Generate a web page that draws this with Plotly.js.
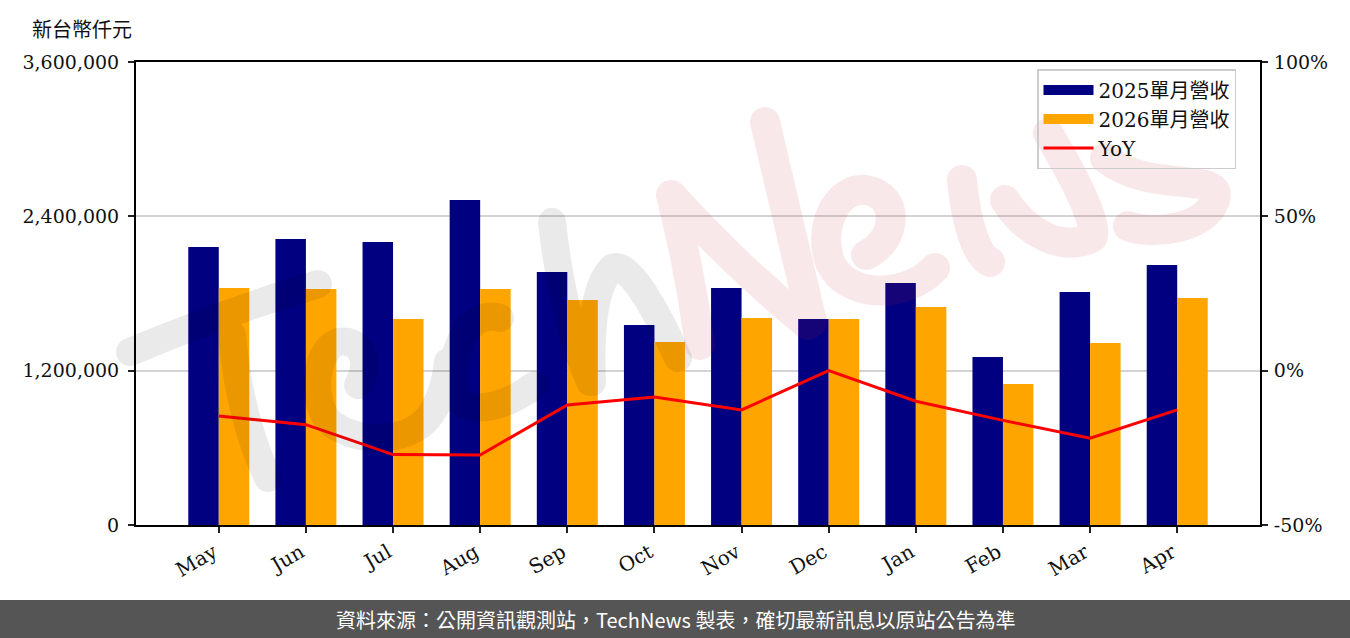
<!DOCTYPE html>
<html>
<head>
<meta charset="utf-8">
<script src="https://cdn.plot.ly/plotly-3.0.1.min.js"></script>
<style>
  html, body { margin: 0; padding: 0; background: #fff; }
  #chart { width: 1350px; height: 638px; }
</style>
</head>
<body>
<div id="chart"></div>
<script>
// ---- data ----
const months = ['May', 'Jun', 'Jul', 'Aug', 'Sep', 'Oct', 'Nov', 'Dec', 'Jan', 'Feb', 'Mar', 'Apr'];
const rev2025 = [2161600, 2223800, 2200400, 2527000, 1967200, 1555100, 1842800, 1601700, 1881600, 1306300, 1811700, 2021600];
const rev2026 = [1842800, 1835000, 1601700, 1835000, 1749500, 1422900, 1609500, 1601700, 1695000, 1096300, 1415100, 1765000];
const yoy = [-14.7, -17.5, -27.2, -27.3, -11.1, -8.5, -12.7, 0.0, -9.9, -16.1, -21.9, -12.7];

const seriesNames = ['2025單月營收', '2026單月營收', 'YoY'];
const leftTickVals = [0, 1200000, 2400000, 3600000];
const leftTickText = ['0', '1,200,000', '2,400,000', '3,600,000'];
const rightTickVals = [-50, 0, 50, 100];
const rightTickText = ['-50%', '0%', '50%', '100%'];
const unitLabel = '新台幣仟元';
const footerText = '資料來源：公開資訊觀測站，TechNews 製表，確切最新訊息以原站公告為準';

// ---- styling ----
const SERIF = '"DejaVu Serif", "Noto Sans CJK TC", serif';
const SANS_CJK = '"Noto Sans CJK TC", "Noto Sans", sans-serif';
const COLORS = ['#000080', '#FFA500', '#FF0000'];
const W = 1350, H = 638;
const M = { l: 136, r: 90, t: 62, b: 113 };
const PW = W - M.l - M.r, PH = H - M.t - M.b;
const px2x = (px) => (px - M.l) / PW;
const px2y = (py) => (H - M.b - py) / PH;

// decorative watermark (brush-like "TechNews"), drawn in page pixels
const wmSvg =
  '<svg xmlns="http://www.w3.org/2000/svg" width="1350" height="638" viewBox="0 0 1350 638">' +
  '<g opacity="0.08" fill="none" stroke="#000" stroke-width="28" stroke-linecap="round" stroke-linejoin="round">' +
  '<path d="M130,352 Q225,312 318,284"/>' +
  '<path d="M232,335 Q240,420 268,478"/>' +
  '<path d="M358,385 C372,360 360,338 338,342 C312,352 312,405 330,422 C352,442 405,445 428,418 C442,400 446,380 448,362"/>' +
  '<path d="M500,318 C470,308 452,348 452,385 C453,415 495,415 535,385"/>' +
  '<path d="M552,222 Q563,320 590,382"/>' +
  '<path d="M592,382 Q588,292 612,268 Q632,258 678,358"/>' +
  '</g>' +
  '<g opacity="0.1" fill="none" stroke="#c8283c" stroke-width="30" stroke-linecap="round" stroke-linejoin="round">' +
  '<path d="M700,345 Q690,270 671,195"/>' +
  '<path d="M673,197 Q740,270 808,325"/>' +
  '<path d="M812,322 Q790,230 765,122"/>' +
  '<path d="M866,255 C898,240 900,195 866,190 C835,187 818,230 830,262 C845,298 905,300 935,268"/>' +
  '<path d="M962,180 C966,225 978,258 990,262"/>' +
  '<path d="M1005,200 C1025,232 1060,252 1092,238 C1100,225 1070,170 1048,133"/>' +
  '<path d="M1105,158 C1150,195 1225,170 1215,200 C1205,230 1150,235 1128,226"/>' +
  '</g></svg>';
const wmSrc = 'data:image/svg+xml;charset=utf-8,' + encodeURIComponent(wmSvg);

const traces = [
  {
    type: 'bar', name: seriesNames[0], x: months, y: rev2025,
    marker: { color: COLORS[0], line: { width: 0 } }, yaxis: 'y', showlegend: false, legendgroup: 'a'
  },
  {
    type: 'bar', name: seriesNames[1], x: months, y: rev2026,
    marker: { color: COLORS[1], line: { width: 0 } }, yaxis: 'y', showlegend: false, legendgroup: 'b'
  },
  {
    type: 'scatter', mode: 'lines', name: seriesNames[2], x: months, y: yoy,
    line: { color: COLORS[2], width: 3 }, yaxis: 'y2', showlegend: false, legendgroup: 'c'
  },
  // legend-only entries (wide rectangle swatches like the reference legend)
  { type: 'scatter', mode: 'lines', name: seriesNames[0], x: [null], y: [null], line: { color: COLORS[0], width: 15 }, legendgroup: 'a', hoverinfo: 'skip' },
  { type: 'scatter', mode: 'lines', name: seriesNames[1], x: [null], y: [null], line: { color: COLORS[1], width: 15 }, legendgroup: 'b', hoverinfo: 'skip' },
  { type: 'scatter', mode: 'lines', name: seriesNames[2], x: [null], y: [null], line: { color: COLORS[2], width: 3 }, legendgroup: 'c', yaxis: 'y2', hoverinfo: 'skip' }
];

const tickFont = { family: SERIF, size: 19, color: '#111' };

const layout = {
  width: W, height: H,
  margin: M,
  paper_bgcolor: '#ffffff', plot_bgcolor: '#ffffff',
  barmode: 'group', bargap: 0.3, bargroupgap: 0,
  font: { family: SERIF, size: 19, color: '#111' },
  xaxis: {
    type: 'category', range: [-0.95, 11.95],
    showline: true, linecolor: '#000', linewidth: 2, mirror: true,
    ticks: 'outside', ticklen: 6, tickwidth: 2, tickcolor: '#222',
    tickangle: -30, tickfont: { family: SERIF, size: 20, color: '#111' },
    ticklabelshift: -5,
    showgrid: false, zeroline: false
  },
  yaxis: {
    range: [0, 3600000], tickmode: 'array', tickvals: leftTickVals, ticktext: leftTickText,
    showline: true, linecolor: '#000', linewidth: 2,
    ticks: 'outside', ticklen: 6, tickwidth: 2, tickcolor: '#222',
    tickfont: tickFont, ticklabelstandoff: 5,
    showgrid: true, gridcolor: '#d3d3d3', gridwidth: 2, zeroline: false
  },
  yaxis2: {
    overlaying: 'y', side: 'right',
    range: [-50, 100], tickmode: 'array', tickvals: rightTickVals, ticktext: rightTickText,
    showline: true, linecolor: '#000', linewidth: 2,
    ticks: 'outside', ticklen: 6, tickwidth: 2, tickcolor: '#222',
    tickfont: tickFont, ticklabelstandoff: 2,
    showgrid: false, zeroline: false
  },
  showlegend: true,
  legend: {
    x: px2x(1037), y: px2y(69), xanchor: 'left', yanchor: 'top',
    bgcolor: 'rgba(255,255,255,0)', bordercolor: '#cccccc', borderwidth: 1.5,
    font: { family: SERIF, size: 20, color: '#111' },
    traceorder: 'normal', itemwidth: 50
  },
  images: [{
    source: wmSrc, xref: 'paper', yref: 'paper',
    x: px2x(0), y: px2y(0), sizex: W / PW, sizey: H / PH,
    xanchor: 'left', yanchor: 'top', sizing: 'stretch', layer: 'above', opacity: 1
  }],
  shapes: [{
    type: 'rect', xref: 'paper', yref: 'paper',
    x0: px2x(-5), x1: px2x(W + 5), y0: px2y(H + 5), y1: px2y(600),
    fillcolor: '#555555', line: { width: 0 }, layer: 'above'
  }],
  annotations: [
    {
      text: unitLabel, xref: 'paper', yref: 'paper',
      x: px2x(30), y: px2y(28), xanchor: 'left', yanchor: 'middle',
      showarrow: false, font: { family: SANS_CJK, size: 20, color: '#111' }
    },
    {
      text: footerText, xref: 'paper', yref: 'paper',
      x: px2x(675), y: px2y(619), xanchor: 'center', yanchor: 'middle',
      showarrow: false, font: { family: SANS_CJK, size: 20, color: '#ffffff' }
    }
  ]
};

Plotly.newPlot('chart', traces, layout, { staticPlot: true, displayModeBar: false });
</script>
</body>
</html>
